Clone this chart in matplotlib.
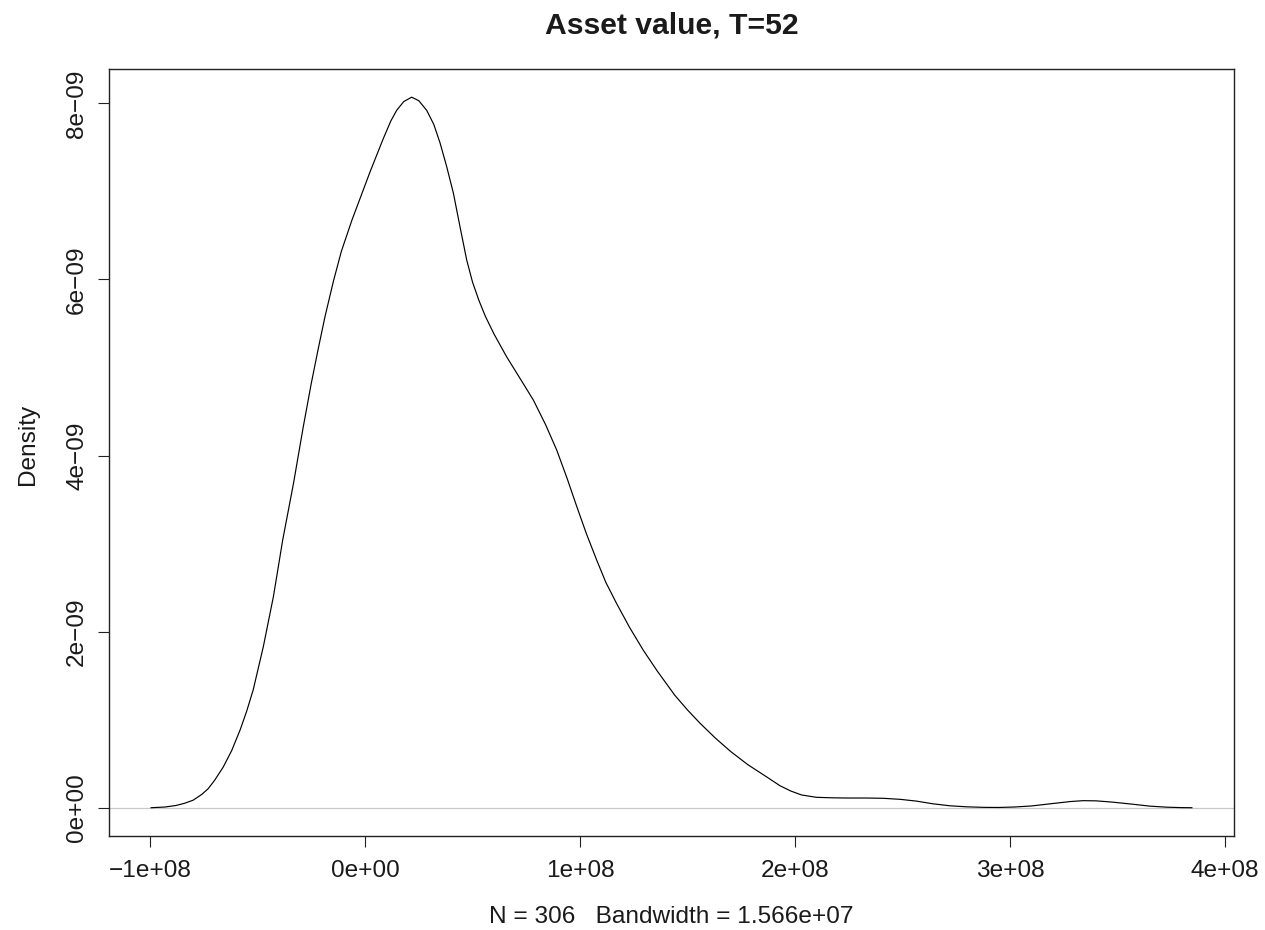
import numpy as np
import matplotlib
matplotlib.use("Agg")
import matplotlib.pyplot as plt
from matplotlib.ticker import FuncFormatter

plt.rcParams['font.family'] = ['Liberation Sans', 'DejaVu Sans']

TITLE = "Asset value, T=52"
X_LABEL = "N = 306   Bandwidth = 1.566e+07"
Y_LABEL = "Density"

# density curve: x in units of 1e8, y in units of 1e-9
X_E8 = [-0.995, -0.93, -0.88, -0.84, -0.80, -0.76, -0.73, -0.70, -0.66,
        -0.62, -0.58, -0.55, -0.52, -0.473, -0.426, -0.383, -0.333,
        -0.287, -0.25, -0.217, -0.186, -0.147, -0.11, -0.06, -0.023,
        0.023, 0.085, 0.12, 0.147, 0.18, 0.217, 0.25, 0.287, 0.32, 0.349,
        0.38, 0.411, 0.44, 0.473, 0.50, 0.53, 0.56, 0.60, 0.659, 0.72,
        0.783, 0.84, 0.892, 0.94, 0.985, 1.03, 1.078, 1.12, 1.17, 1.23,
        1.294, 1.36, 1.44, 1.50, 1.558, 1.63, 1.70, 1.78, 1.868, 1.93,
        1.98, 2.03, 2.10, 2.18, 2.25, 2.33, 2.41, 2.49, 2.565, 2.64,
        2.72, 2.80, 2.88, 2.95, 3.02, 3.10, 3.19, 3.28, 3.34, 3.40, 3.47,
        3.57, 3.65, 3.73, 3.80, 3.846]
Y_E9 = [0.0, 0.008, 0.025, 0.05, 0.085, 0.15, 0.215, 0.31, 0.46,
        0.65, 0.89, 1.10, 1.34, 1.83, 2.40, 3.04, 3.68,
        4.33, 4.82, 5.22, 5.58, 5.98, 6.32, 6.68, 6.92,
        7.22, 7.60, 7.80, 7.92, 8.02, 8.07, 8.03, 7.92, 7.76, 7.55,
        7.28, 6.98, 6.62, 6.22, 5.97, 5.76, 5.58, 5.38, 5.12, 4.88,
        4.63, 4.35, 4.06, 3.74, 3.42, 3.11, 2.81, 2.56, 2.32, 2.05,
        1.79, 1.55, 1.28, 1.11, 0.96, 0.79, 0.64, 0.49, 0.35, 0.25,
        0.19, 0.145, 0.118, 0.112, 0.11, 0.11, 0.107, 0.095, 0.075, 0.045,
        0.022, 0.01, 0.004, 0.003, 0.008, 0.02, 0.045, 0.07, 0.08, 0.078,
        0.065, 0.04, 0.018, 0.006, 0.001, 0.0]

X_TICKS = [-1e8, 0, 1e8, 2e8, 3e8, 4e8]
Y_TICKS = [0, 2e-9, 4e-9, 6e-9, 8e-9]


def r_sci(v, pos=None):
    return f"{v:.0e}".replace('-', '\u2212')


def main():
    x = np.array(X_E8) * 1e8
    y = np.array(Y_E9) * 1e-9

    fig = plt.figure(figsize=(12.65, 9.3), dpi=100)
    ax = fig.add_axes([0.0862, 0.1011, 0.8893, 0.8247])

    ax.axhline(0, color='#C8C8C8', lw=0.9, zorder=1)
    ax.plot(x, y, color='black', lw=0.85, zorder=2)

    ax.set_xlim(-1.1907e8, 4.042e8)
    ax.set_ylim(-0.321e-9, 8.39e-9)
    ax.set_xticks(X_TICKS)
    ax.set_yticks(Y_TICKS)
    ax.xaxis.set_major_formatter(FuncFormatter(r_sci))
    ax.yaxis.set_major_formatter(FuncFormatter(r_sci))

    ax.tick_params(axis='both', direction='out', length=8, width=0.8,
                   color='#222222', labelsize=17.6, labelcolor='#1a1a1a')
    ax.tick_params(axis='x', pad=9)
    ax.tick_params(axis='y', pad=7)
    plt.setp(ax.get_yticklabels(), rotation=90, va='center')

    for s in ax.spines.values():
        s.set_linewidth(1.0)
        s.set_color('#222222')

    fig.text(0.5308, 1 - 33.3 / 930, TITLE, ha='center', va='baseline',
             fontsize=21.7, fontweight='bold', color='#1a1a1a')
    fig.text(0.5308, 1 - 923 / 930, X_LABEL, ha='center', va='baseline',
             fontsize=17.6, color='#1a1a1a')
    fig.text(27.8 / 1265, 1 - 444 / 930, Y_LABEL, ha='center', va='center',
             rotation=90, fontsize=17.6, color='#1a1a1a')

    fig.savefig('out.png', dpi=100, facecolor='white')


if __name__ == '__main__':
    main()
